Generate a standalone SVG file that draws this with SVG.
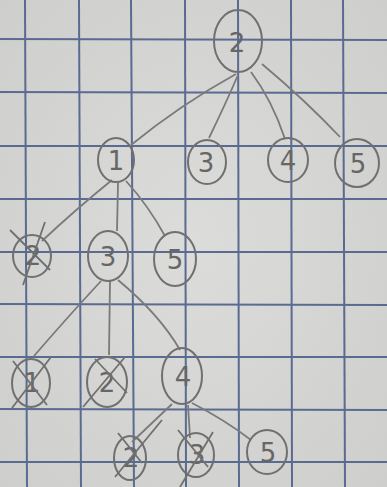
<svg xmlns="http://www.w3.org/2000/svg" width="387" height="487" viewBox="0 0 387 487">
<defs>
<style>
.grid line{stroke:#5a6b92;stroke-width:2}
.n ellipse{fill:none;stroke:#707070;stroke-width:2}
.n text{font-family:"DejaVu Sans",sans-serif;fill:#666;text-anchor:middle;font-size:26px}
.x{stroke:#707070;stroke-width:1.8;fill:none}
#edges path{stroke:#7a7a7a;stroke-width:1.8;fill:none}
</style>
<radialGradient id="bg" cx="0.5" cy="0.5" r="0.75">
<stop offset="0" stop-color="#dcdcda"/>
<stop offset="1" stop-color="#cdcdcb"/>
</radialGradient>
</defs>
<rect width="387" height="487" fill="url(#bg)"/>
<g class="grid">
<line x1="25" y1="0" x2="27" y2="487"/>
<line x1="79" y1="0" x2="81" y2="487"/>
<line x1="131" y1="0" x2="134" y2="487"/>
<line x1="185" y1="0" x2="186" y2="487"/>
<line x1="238" y1="0" x2="239" y2="487"/>
<line x1="291" y1="0" x2="292" y2="487"/>
<line x1="343" y1="0" x2="345" y2="487"/>
<line x1="0" y1="39" x2="387" y2="40"/>
<line x1="0" y1="92" x2="387" y2="93"/>
<line x1="0" y1="146" x2="387" y2="146"/>
<line x1="0" y1="199" x2="387" y2="199"/>
<line x1="0" y1="252" x2="387" y2="252"/>
<line x1="0" y1="304" x2="387" y2="305"/>
<line x1="0" y1="357" x2="387" y2="357"/>
<line x1="0" y1="409" x2="387" y2="410"/>
<line x1="0" y1="462" x2="387" y2="462"/>
</g>
<g id="edges">
<path d="M236 74 Q180 105 131 145"/>
<path d="M238 75 Q225 105 209 138"/>
<path d="M251 72 Q272 100 285 139"/>
<path d="M262 64 Q305 100 340 137"/>
<path d="M112 180 Q75 210 42 241"/>
<path d="M118 183 L117 231"/>
<path d="M126 181 Q148 205 165 236"/>
<path d="M101 281 Q65 320 34 356"/>
<path d="M110 281 L109 355"/>
<path d="M118 280 Q160 315 180 350"/>
<path d="M172 404 Q150 425 132 442"/>
<path d="M188 405 L190 438"/>
<path d="M192 403 Q225 420 251 440"/>
</g>
<g id="n_root" class="n"><ellipse cx="238" cy="41" rx="24" ry="31"/><text x="237" y="52" font-size="30">2</text></g>
<g id="n_1" class="n"><ellipse cx="116" cy="160" rx="18" ry="22"/><text x="116" y="170">1</text></g>
<g id="n_3a" class="n"><ellipse cx="207" cy="162" rx="19" ry="22"/><text x="206" y="172">3</text></g>
<g id="n_4a" class="n"><ellipse cx="288" cy="160" rx="20" ry="22"/><text x="288" y="170">4</text></g>
<g id="n_5a" class="n"><ellipse cx="357" cy="163" rx="22" ry="24"/><text x="358" y="173">5</text></g>
<g id="n_2b" class="n"><ellipse cx="32" cy="256" rx="19" ry="21"/><text x="33" y="265" font-size="22">2</text>
<path class="x" d="M10 230 L50 270 M45 222 L23 285"/></g>
<g id="n_3b" class="n"><ellipse cx="108" cy="256" rx="20" ry="25"/><text x="108" y="266">3</text></g>
<g id="n_5b" class="n"><ellipse cx="175" cy="259" rx="21" ry="27"/><text x="175" y="269">5</text></g>
<g id="n_1c" class="n"><ellipse cx="31" cy="383" rx="19" ry="24"/><text x="32" y="392" font-size="22">1</text>
<path class="x" d="M13 361 L47 405 M51 357 L12 408"/></g>
<g id="n_2c" class="n"><ellipse cx="107" cy="382" rx="20" ry="25"/><text x="107" y="392" font-size="22">2</text>
<path class="x" d="M95 359 L127 393 M125 357 L83 407"/></g>
<g id="n_4c" class="n"><ellipse cx="182" cy="376" rx="20" ry="28"/><text x="183" y="386">4</text></g>
<g id="n_2d" class="n"><ellipse cx="130" cy="458" rx="16" ry="22"/><text x="131" y="467" font-size="20">2</text>
<path class="x" d="M118 433 L142 463 M162 420 L115 477"/></g>
<g id="n_3d" class="n"><ellipse cx="196" cy="455" rx="18" ry="22"/><text x="197" y="464" font-size="20">3</text>
<path class="x" d="M178 430 L208 467 M213 432 L180 487"/></g>
<g id="n_5d" class="n"><ellipse cx="267" cy="452" rx="20" ry="22"/><text x="268" y="462" font-size="24">5</text></g>
</svg>
